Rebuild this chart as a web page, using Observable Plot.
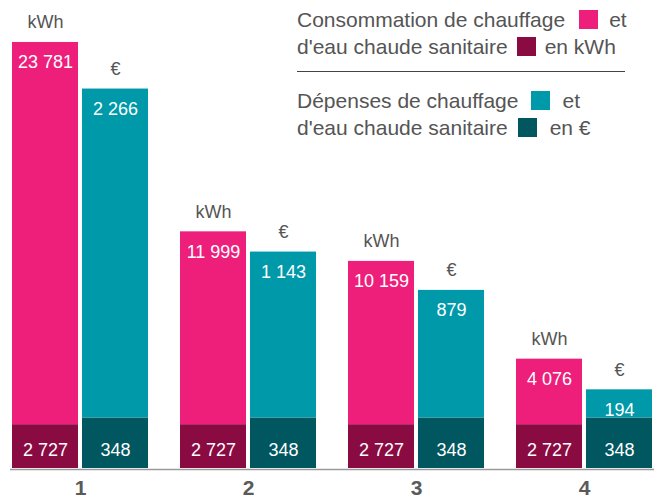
<!DOCTYPE html>
<html><head><meta charset="utf-8">
<script src="https://cdn.jsdelivr.net/npm/d3@7"></script>
<script src="https://cdn.jsdelivr.net/npm/@observablehq/plot@0.6"></script>
<style>
body{margin:0;background:#fff;font-family:"Liberation Sans",Arial,sans-serif;}
#chart{position:relative;width:654px;height:501px;overflow:hidden;}
#chart svg{position:absolute;left:0;top:0;}
.legend{position:absolute;left:297px;color:#555;font-size:21px;line-height:27px;white-space:nowrap;}
.sw{display:inline-block;width:19px;height:19px;vertical-align:-2px;}
.sep{position:absolute;left:297px;top:71px;width:328px;height:0;border-top:1.5px solid #444;}
</style></head><body>
<div id="chart"></div>
<script>
const groups = ["1", "2", "3", "4"];
const seriesNames = ["kWh", "€"];
const kwhTop = [23781, 11999, 10159, 4076];
const kwhBase = [2727, 2727, 2727, 2727];
const eurTop = [2266, 1143, 879, 194];
const eurBase = [348, 348, 348, 348];
const legendKwh = ["Consommation de chauffage", "et", "d'eau chaude sanitaire", "en kWh"];
const legendEur = ["Dépenses de chauffage", "et", "d'eau chaude sanitaire", "en €"];

const colors = {kwhTop: "#ED1F7B", kwhBase: "#8A0B42", eurTop: "#0099A9", eurBase: "#00575F"};
const fmt = d3.formatLocale({decimal: ",", thousands: " ", grouping: [3], currency: ["", "€"]}).format(",d");
const font = "'Liberation Sans', Arial, sans-serif";

function layer(series, tops, bases, yMax, cTop, cBase, withAxis) {
  const rows = groups.map((g, i) => ({group: g, series, top: tops[i], base: bases[i], total: tops[i] + bases[i]}));
  const marks = [
    Plot.barY(rows, {fx: "group", x: "series", y1: 0, y2: "base", fill: cBase}),
    Plot.barY(rows, {fx: "group", x: "series", y1: "base", y2: "total", fill: cTop}),
    Plot.text(rows, {fx: "group", x: "series", y: "total", text: d => fmt(d.top), fill: "white", fontSize: 18, lineAnchor: "bottom", dy: 26}),
    Plot.text(rows, {fx: "group", x: "series", frameAnchor: "bottom", text: d => fmt(d.base), fill: "white", fontSize: 18, lineAnchor: "bottom", dy: -13}),
    Plot.text(rows, {fx: "group", x: "series", y: "total", text: "series", fill: "#555", fontSize: 18, lineAnchor: "bottom", dy: -14})
  ];
  if (withAxis) marks.push(Plot.axisFx({anchor: "bottom", tickSize: 0, tickPadding: 12, label: null, fontSize: 21, fontWeight: "bold", fill: "#5a5a5a"}));
  return Plot.plot({
    width: 654, height: 501, marginLeft: 9, marginRight: 0, marginTop: 18, marginBottom: 33,
    style: {fontFamily: font, background: "transparent", overflow: "visible"},
    fx: {domain: groups, paddingInner: 0.18, paddingOuter: 0, axis: null, label: null},
    x: {domain: seriesNames, paddingInner: 0.056, paddingOuter: 0, axis: null},
    y: {domain: [0, yMax], axis: null},
    marks
  });
}

const chart = document.getElementById("chart");
chart.append(Plot.plot({
  width: 654, height: 501, marginLeft: 10, marginRight: 0, marginTop: 18, marginBottom: 33,
  style: {background: "transparent"},
  y: {domain: [0, 1], axis: null},
  marks: [Plot.ruleY([0], {stroke: "#9a9a9a", strokeWidth: 1.5, dy: 1})]
}));
chart.append(layer("kWh", kwhTop, kwhBase, 28000, colors.kwhTop, colors.kwhBase, true));
chart.append(layer("€", eurTop, eurBase, 3100, colors.eurTop, colors.eurBase, false));

function legendBlock(lines, top, cA, cB, gaps) {
  const div = document.createElement("div");
  div.className = "legend";
  div.style.top = top + "px";
  div.innerHTML =
    `<div>${lines[0]}<span class="sw" style="background:${cA};margin:0 ${gaps[1]}px 0 ${gaps[0]}px"></span>${lines[1]}</div>` +
    `<div>${lines[2]}<span class="sw" style="background:${cB};margin:0 ${gaps[3]}px 0 ${gaps[2]}px"></span>${lines[3]}</div>`;
  chart.append(div);
}
legendBlock(legendKwh, 6, colors.kwhTop, colors.kwhBase, [14, 11, 9, 9]);
const sep = document.createElement("div"); sep.className = "sep"; chart.append(sep);
legendBlock(legendEur, 87, colors.eurTop, colors.eurBase, [13, 12, 10, 13]);
</script>
</body></html>
